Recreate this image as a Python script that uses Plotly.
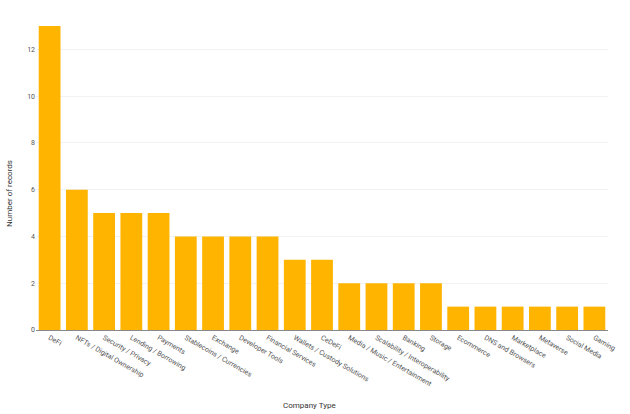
import plotly.graph_objects as go

categories = ["DeFi", "NFTs / Digital Ownership", "Security / Privacy", "Lending / Borrowing",
              "Payments", "Stablecoins / Currencies", "Exchange", "Developer Tools",
              "Financial Services", "Wallets / Custody Solutions", "CeDeFi",
              "Media / Music / Entertainment", "Scalability / Interoperability", "Banking",
              "Storage", "Ecommerce", "DNS and Browsers", "Marketplace", "Metaverse",
              "Social Media", "Gaming"]
counts = [13, 6, 5, 5, 5, 4, 4, 4, 4, 3, 3, 2, 2, 2, 2, 1, 1, 1, 1, 1, 1]

W, H = 630, 414
fig = go.Figure(go.Bar(x=categories, y=counts, marker_color="#FFB400",
                       marker_line_width=0))
fig.update_layout(
    width=W, height=H,
    margin=dict(l=36, r=22, t=26, b=84),
    plot_bgcolor="white", paper_bgcolor="white",
    bargap=0.2,
    font=dict(family="Roboto, sans-serif", size=8, color="#444"),
    showlegend=False,
    annotations=[
        dict(text="Company Type", xref="paper", yref="paper", x=0.478, y=-0.248,
             xanchor="center", yanchor="middle", showarrow=False,
             font=dict(size=8, color="#333")),
        dict(text="Number of records", xref="paper", yref="paper", x=-0.046, y=0.45,
             xanchor="center", yanchor="middle", showarrow=False, textangle=-90,
             font=dict(size=8, color="#333")),
    ],
)
fig.update_xaxes(
    tickangle=30, showline=True, linecolor="#888", linewidth=1, automargin=False,
    tickfont=dict(size=7, color="#555"), ticks="",
)
fig.update_yaxes(
    range=[0, 13], tickvals=[0, 2, 4, 6, 8, 10, 12], automargin=False,
    showgrid=True, gridcolor="#f2f2f2", zeroline=False,
    tickfont=dict(size=7, color="#555"),
)
fig.write_html("out.html", config={"displayModeBar": False},
               post_script="document.body.style.margin='0';document.body.style.overflow='hidden';")
